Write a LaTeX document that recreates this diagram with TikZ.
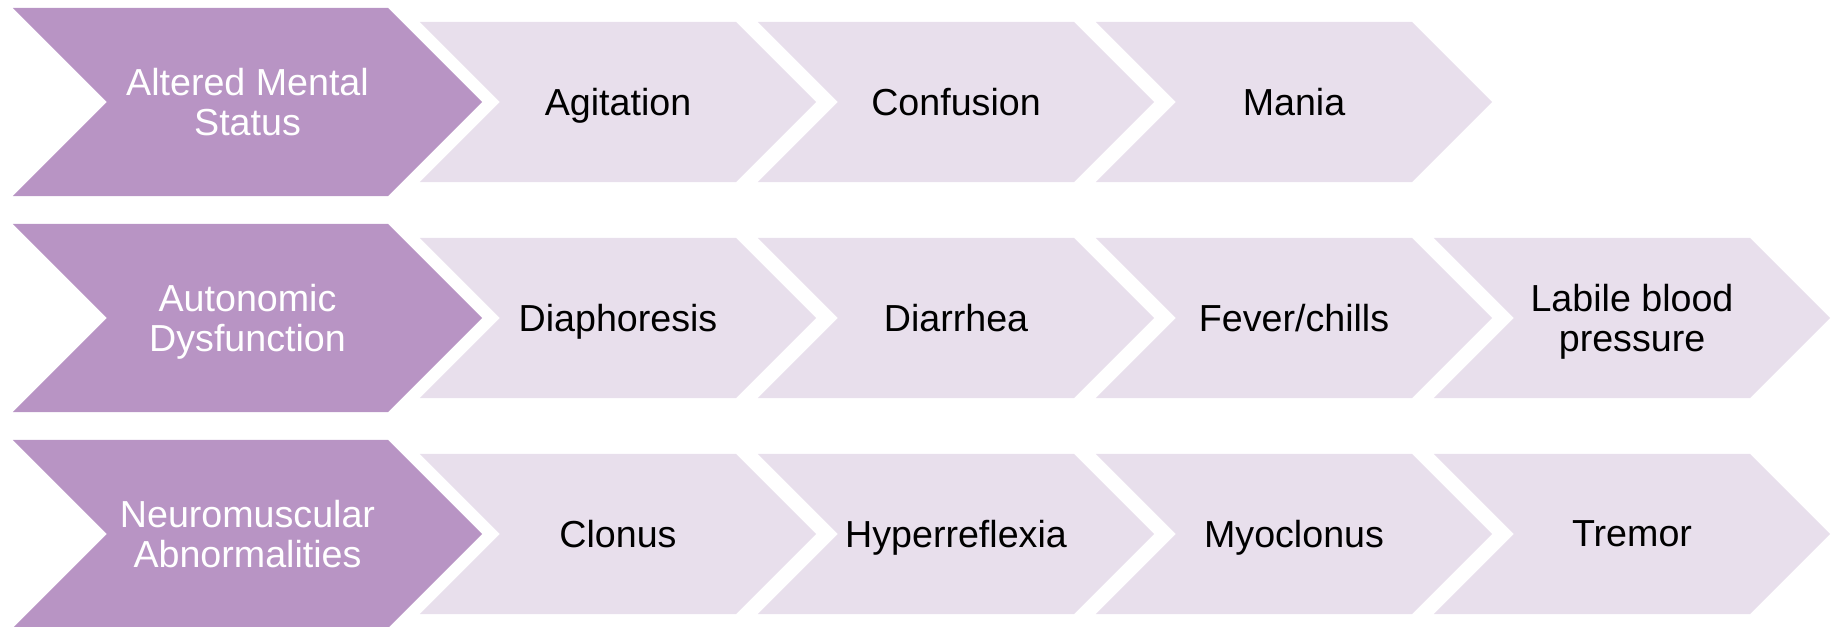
\documentclass[tikz,border=0pt]{standalone}
\usepackage{fontspec}
\setmainfont{Liberation Sans}
\usetikzlibrary{shapes.symbols}

\definecolor{headpurple}{RGB}{184,148,196}
\definecolor{itempurple}{RGB}{232,223,236}

\begin{document}
\begin{tikzpicture}[
        x=0.01cm, y=-0.01cm,
        chevron/.style={signal, signal from=west, signal to=east, signal pointer angle=90,
            draw=none, inner sep=0pt, align=center, text depth=0pt,
            font=\fontsize{10.7}{11.4}\selectfont},
        head/.style={chevron, fill=headpurple, text=white, minimum width=4.69cm, minimum height=1.88cm},
        item/.style={chevron, fill=itempurple, text=black, minimum width=3.96cm, minimum height=1.6cm}
        ]
        \useasboundingbox (0,0) rectangle (1843,626);

        % row 1
        \node[head] (mental) at (247.5,102) {Altered Mental\\Status};
        \node[item] (agitation) at (618,102) {Agitation};
        \node[item] (confusion) at (956,102) {Confusion};
        \node[item] (mania) at (1294,102) {Mania};

        % row 2
        \node[head] (autonomic) at (247.5,318) {Autonomic\\Dysfunction};
        \node[item] (diaphoresis) at (618,318) {Diaphoresis};
        \node[item] (diarrhea) at (956,318) {Diarrhea};
        \node[item] (fever) at (1294,318) {Fever/chills};
        \node[item] (labile) at (1632,318) {Labile blood\\pressure};

        % row 3
        \node[head] (neuro) at (247.5,534) {Neuromuscular\\Abnormalities};
        \node[item] (clonus) at (618,534) {Clonus};
        \node[item] (hyper) at (956,534) {Hyperreflexia};
        \node[item] (myoclonus) at (1294,534) {Myoclonus};
        \node[item] (tremor) at (1632,534) {Tremor};
      \end{tikzpicture}
\end{document}
